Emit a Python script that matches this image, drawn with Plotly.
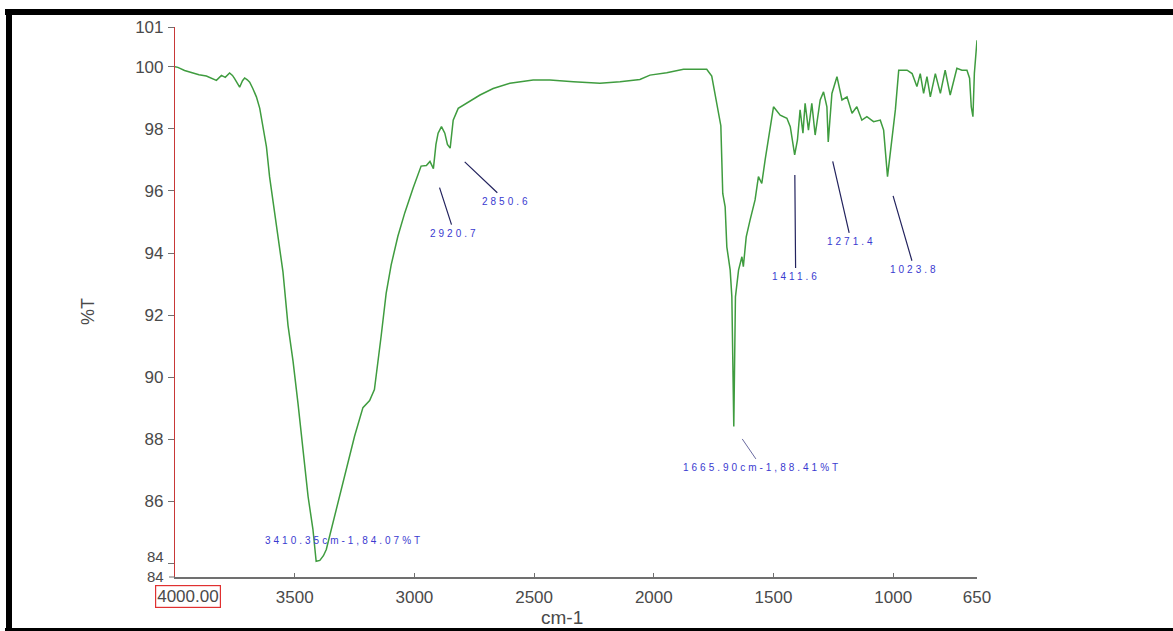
import plotly.graph_objects as go

# FTIR spectrum: wavenumber (cm-1) and transmittance (%T)
wavenumber = [
    4000, 3988, 3960, 3925, 3900, 3869, 3845, 3827, 3806, 3790, 3772, 3760,
    3751, 3740, 3730, 3718, 3709, 3698, 3688, 3675, 3660, 3646, 3633, 3618,
    3605, 3590, 3569, 3549, 3528, 3507, 3486, 3465, 3444, 3424, 3410.35, 3395,
    3380, 3368, 3340, 3312, 3285, 3250, 3215, 3187, 3167, 3153, 3139, 3118,
    3097, 3069, 3040, 3005, 2972, 2950, 2935, 2920.7, 2910, 2901, 2887, 2873,
    2862, 2850.6, 2838, 2817, 2782, 2726, 2671, 2601, 2504, 2434, 2336, 2225,
    2141, 2058, 2016, 1946, 1876, 1800, 1779, 1758, 1744, 1730, 1720, 1716,
    1712, 1702, 1695, 1681, 1674, 1665.90, 1659, 1646, 1632, 1626, 1614, 1598,
    1577, 1563, 1549, 1535, 1514, 1500, 1472, 1444, 1430, 1411.6, 1400, 1389,
    1377, 1368, 1354, 1340, 1326, 1305, 1291, 1277, 1271.4, 1256, 1235, 1214,
    1193, 1172, 1152, 1131, 1110, 1082, 1054, 1040, 1023.8, 1005, 991, 977,
    942, 921, 901, 887, 873, 859, 845, 824, 803, 783, 762, 734,
    713, 692, 681, 674, 667, 661, 653, 650,
]
transmittance = [
    100.00, 99.98, 99.88, 99.80, 99.74, 99.70, 99.62, 99.56, 99.72, 99.66, 99.80, 99.72,
    99.62, 99.48, 99.34, 99.55, 99.64, 99.58, 99.50, 99.30, 99.03, 98.66, 98.07, 97.42,
    96.46, 95.60, 94.54, 93.39, 91.67, 90.52, 89.14, 87.64, 86.15, 85.11, 84.07, 84.10,
    84.25, 84.45, 85.34, 86.15, 87.07, 88.10, 89.02, 89.25, 89.60, 90.40, 91.32, 92.70,
    93.62, 94.54, 95.30, 96.10, 96.80, 96.82, 96.95, 96.72, 97.50, 97.86, 98.07, 97.86,
    97.50, 97.38, 98.28, 98.66, 98.82, 99.09, 99.30, 99.47, 99.57, 99.57, 99.52, 99.47,
    99.52, 99.59, 99.73, 99.81, 99.92, 99.93, 99.92, 99.70, 99.10, 98.61, 98.10, 97.00,
    95.92, 95.49, 94.20, 93.45, 92.59, 88.41, 92.59, 93.45, 93.88, 93.56, 94.52, 95.06,
    95.71, 96.46, 96.24, 97.00, 98.07, 98.71, 98.44, 98.34, 98.07, 97.16, 97.64, 98.61,
    97.86, 98.82, 97.96, 98.82, 97.80, 98.93, 99.19, 98.71, 97.58, 99.14, 99.68, 98.93,
    99.03, 98.50, 98.71, 98.28, 98.39, 98.23, 98.28, 97.96, 96.46, 97.64, 98.61, 99.89,
    99.89, 99.78, 99.36, 99.78, 99.14, 99.68, 99.03, 99.78, 99.14, 99.89, 99.09, 99.95,
    99.89, 99.89, 99.63, 98.71, 98.39, 99.79, 100.81, 100.85,
]

# labelled peaks
peak_wn = [2920.7, 2850.6, 1411.6, 1271.4, 1023.8]
peak_offsets = [(21, 65), (56, 53), (1, 122), (23, 100), (27, 93)]
minima_wn = [3410.35, 1665.90]

x_ticks = [4000, 3500, 3000, 2500, 2000, 1500, 1000, 650]
x_ticktext = ["", "3500", "3000", "2500", "2000", "1500", "1000", "650"]
y_ticks = [84, 86, 88, 90, 92, 94, 96, 98, 100, 101.27]
y_ticktext = ["", "86", "88", "90", "92", "94", "96", "98", "100", "101"]
y_bottom_labels = ["84", "84"]

X_RANGE = [4000, 650]
Y_RANGE = [83.565, 101.28]

W, H = 1173, 631
ML, MR, MT, MB = 175, 196, 27, 54
PW, PH = W - ML - MR, H - MT - MB


def px_x(px):
    return (px - ML) / PW


def px_y(py):
    return (H - MB - py) / PH


def t_at(wn):
    return transmittance[wavenumber.index(wn)]


fig = go.Figure()
fig.add_trace(go.Scatter(
    x=wavenumber, y=transmittance, mode="lines",
    line=dict(color="#3f9c3f", width=1.5),
    hoverinfo="skip", showlegend=False,
))

label_font = dict(family="Liberation Sans, Arial, sans-serif", size=10, color="#3a3ad0")
annotations = []


def spaced(s):
    return '<span style="letter-spacing:3px">' + s + "</span>"


for wn, (ax, ay) in zip(peak_wn, peak_offsets):
    annotations.append(dict(
        x=wn, y=t_at(wn), xref="x", yref="y",
        text=spaced(f"{wn:.1f}"), font=label_font,
        showarrow=True, arrowhead=0, arrowwidth=1.2, arrowcolor="#23235e",
        ax=ax, ay=ay, standoff=20, startstandoff=2,
    ))

# global minimum label (no leader)
wn0 = minima_wn[0]
annotations.append(dict(
    x=wn0, y=t_at(wn0), xref="x", yref="y",
    text=spaced(f"{wn0:.2f}cm-1,{t_at(wn0):.2f}%T"), font=label_font,
    showarrow=False, xshift=28, yshift=21,
))
# amide band minimum label
wn1 = minima_wn[1]
annotations.append(dict(
    x=wn1, y=t_at(wn1), xref="x", yref="y",
    text=spaced(f"{wn1:.2f}cm-1,{t_at(wn1):.2f}%T"), font=label_font,
    showarrow=True, arrowhead=0, arrowwidth=1.0, arrowcolor="#6a6aa0",
    ax=28, ay=41, standoff=15, startstandoff=2,
))

axis_font = dict(family="Liberation Sans, Arial, sans-serif", size=17, color="#4a4a4a")

# stacked labels at the lower end of the %T axis (84 tick and axis end)
annotations.append(dict(
    x=px_x(166), y=px_y(566), xref="paper", yref="paper",
    text="<br>".join(y_bottom_labels),
    font=dict(family="Liberation Sans, Arial, sans-serif", size=15, color="#4a4a4a"),
    showarrow=False, xanchor="right", yanchor="middle", align="right",
))
# start-of-range label in a red box
annotations.append(dict(
    x=px_x(188), y=px_y(596), xref="paper", yref="paper",
    text="4000.00", font=axis_font, showarrow=False,
    bordercolor="#e03030", borderwidth=1.2, borderpad=1,
    xanchor="center", yanchor="middle",
))
# axis titles
annotations.append(dict(
    x=px_x(88), y=px_y(312), xref="paper", yref="paper",
    text="%T", textangle=-90, showarrow=False,
    xanchor="center", yanchor="middle",
    font=dict(family="Liberation Sans, Arial, sans-serif", size=18, color="#4a4a4a"),
))
annotations.append(dict(
    x=px_x(562), y=px_y(617), xref="paper", yref="paper",
    text="cm-1", showarrow=False, xanchor="center", yanchor="middle",
    font=dict(family="Liberation Sans, Arial, sans-serif", size=19, color="#4a4a4a"),
))

# black frame around the chart
frame = [
    dict(x0=px_x(5), x1=px_x(W), y0=px_y(9), y1=px_y(15)),
    dict(x0=px_x(6), x1=px_x(12), y0=px_y(9), y1=px_y(H)),
    dict(x0=px_x(5), x1=px_x(W), y0=px_y(628), y1=px_y(H)),
]
shapes = [dict(type="rect", xref="paper", yref="paper", fillcolor="black",
               line=dict(width=0), layer="above", **f) for f in frame]
# tick at the lower end of the %T axis
shapes.append(dict(type="line", xref="paper", yref="paper",
                   x0=px_x(169), x1=px_x(175), y0=0, y1=0,
                   line=dict(color="#707070", width=1)))

fig.update_layout(
    width=W, height=H, autosize=False,
    margin=dict(l=ML, r=MR, t=MT, b=MB, pad=0),
    paper_bgcolor="white", plot_bgcolor="white",
    xaxis=dict(
        range=X_RANGE, tickvals=x_ticks, ticktext=x_ticktext,
        showgrid=False, zeroline=False, showline=True,
        linecolor="#707070", linewidth=2, ticks="inside", ticklen=4,
        tickcolor="#707070", tickfont=axis_font, ticklabelstandoff=4,
    ),
    yaxis=dict(
        range=Y_RANGE, tickvals=y_ticks, ticktext=y_ticktext,
        showgrid=False, zeroline=False, showline=True,
        linecolor="#c83838", linewidth=1.2, ticks="outside", ticklen=6,
        tickcolor="#707070", tickfont=axis_font, ticklabelstandoff=1,
    ),
    annotations=annotations,
    shapes=shapes,
)

fig.write_html("out.html")
